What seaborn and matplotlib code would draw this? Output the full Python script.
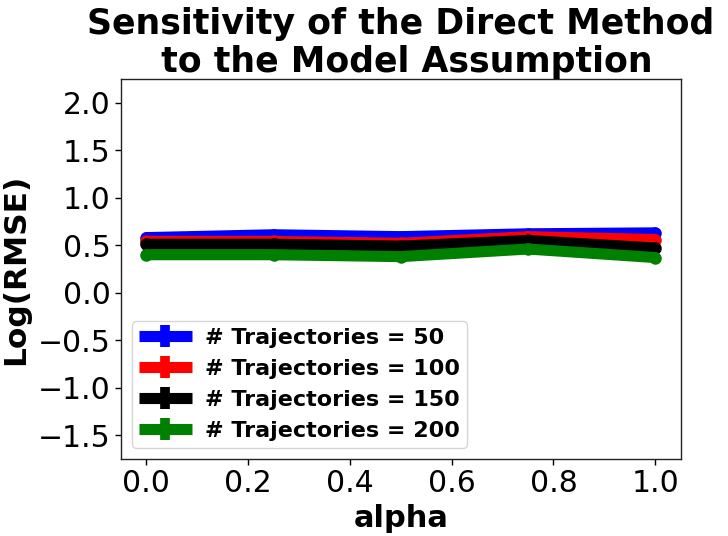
import numpy as np
import pandas as pd
import matplotlib
matplotlib.use("Agg")
import matplotlib.pyplot as plt
from matplotlib.lines import Line2D
import seaborn as sns

alpha = [0.0, 0.25, 0.5, 0.75, 1.0]
rmse_50 = [0.58, 0.61, 0.59, 0.62, 0.63]
rmse_100 = [0.54, 0.54, 0.52, 0.59, 0.56]
rmse_150 = [0.51, 0.51, 0.49, 0.55, 0.47]
rmse_200 = [0.40, 0.40, 0.38, 0.46, 0.37]
err_50 = [0.02, 0.02, 0.02, 0.02, 0.03]
err_100 = [0.02, 0.02, 0.02, 0.02, 0.03]
err_150 = [0.02, 0.02, 0.02, 0.02, 0.03]
err_200 = [0.02, 0.02, 0.03, 0.02, 0.03]
labels = ["# Trajectories = 50", "# Trajectories = 100",
          "# Trajectories = 150", "# Trajectories = 200"]
colors = ["blue", "red", "black", "green"]
x_ticks = [0.0, 0.2, 0.4, 0.6, 0.8, 1.0]
y_ticks = [-1.5, -1.0, -0.5, 0.0, 0.5, 1.0, 1.5, 2.0]

series = [rmse_50, rmse_100, rmse_150, rmse_200]
errs = [err_50, err_100, err_150, err_200]

sns.set_style("ticks")
plt.rcParams['font.family'] = ['DejaVu Sans']
plt.rcParams['text.color'] = 'black'
plt.rcParams['axes.labelcolor'] = 'black'
plt.rcParams['xtick.color'] = 'black'
plt.rcParams['ytick.color'] = 'black'

rows = []
for lab, vals, e in zip(labels, series, errs):
    for a, v, ee in zip(alpha, vals, e):
        rows.append({"alpha": a, "value": v, "err": ee, "series": lab})
df = pd.DataFrame(rows)

fig = plt.figure(figsize=(7.28, 5.36), dpi=100)
ax = fig.add_axes([0.166, 0.1437, 0.769, 0.709])

for lab, c in zip(labels, colors):
    sub = df[df["series"] == lab]
    sns.lineplot(data=sub, x="alpha", y="value", color=c, linewidth=8,
                 marker="o", markersize=9, markeredgewidth=0, legend=False,
                 ax=ax, errorbar=None)
    ax.errorbar(sub["alpha"], sub["value"], yerr=sub["err"], fmt="none",
                ecolor=c, elinewidth=8, capsize=0)

for s in ax.spines.values():
    s.set_color("#222222")
    s.set_linewidth(1.0)

ax.set_xlim(-0.05, 1.05)
ax.set_ylim(-1.75, 2.25)
ax.set_xticks(x_ticks)
ax.set_yticks(y_ticks)
ax.set_xticklabels([f"{t:.1f}" for t in x_ticks])
ax.set_yticklabels([f"{t:.1f}".replace("-", "\u2212") for t in y_ticks])
ax.tick_params(labelsize=21.5, length=4, width=1, colors="black")
ax.set_xlabel("alpha", fontsize=22, fontweight="bold")
ax.set_ylabel("Log(RMSE)", fontsize=22.5, fontweight="bold", labelpad=5)
ax.set_title("Sensitivity of the Direct Method\n to the Model Assumption",
             fontsize=25, fontweight="bold", linespacing=1.15, pad=4)

handles = [Line2D([0], [0], color=c, lw=8, marker="|", markersize=16,
                  markeredgewidth=7, solid_capstyle="butt") for c in colors]
ax.legend(handles, labels, loc="lower left", prop={"weight": "bold", "size": 16},
          frameon=True, framealpha=0.8, edgecolor="#cccccc", fancybox=True,
          labelspacing=0.5, handlelength=2.4, handletextpad=0.6, borderpad=0.3)

fig.savefig("out.png", dpi=100, facecolor="white")
